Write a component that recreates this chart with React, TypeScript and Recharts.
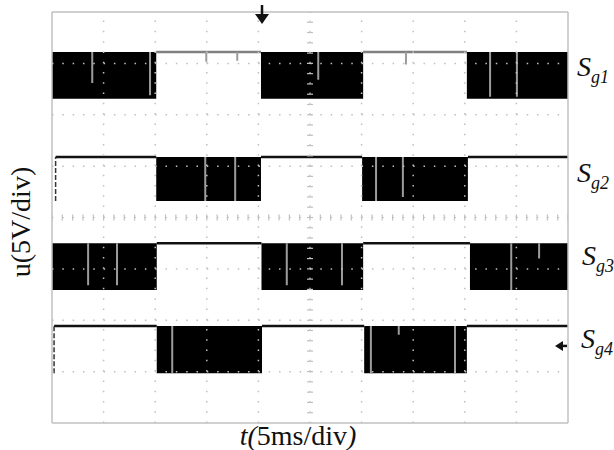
import { ComposedChart, Area, Line, Scatter, XAxis, YAxis, ReferenceLine, ReferenceDot } from "recharts";

// scope screen is 10 x 8 divisions, values below are in divisions
const signalNames = ["g1", "g2", "g3", "g4"];
const highLevel = [7.22, 5.18, 3.5, 1.89];
const lowLevel = [6.31, 4.32, 2.59, 0.97];
const traceStart = [0, 0.07, 0, 0.04];

// PWM bursts (switching at high freq, shows as solid block) [from, to]
const pwmBursts = [
  [[0, 2.02], [4.05, 6.03], [8.04, 10]],
  [[2.02, 4.05], [6.01, 8.06]],
  [[0, 2.03], [4.06, 6.03], [8.1, 10]],
  [[2.03, 4.07], [6.05, 8.04]],
];

// light glitches in the trace [t, from, to]
const glitches = [
  [[0.78, 7.22, 6.62], [1.9, 7.22, 6.38], [2.99, 7.22, 7.03], [3.59, 7.22, 7.05], [5.16, 7.22, 6.68], [6.86, 7.22, 6.98], [8.49, 7.22, 6.35], [9.01, 7.22, 6.35]],
  [[2.97, 5.18, 4.32], [3.55, 5.18, 4.32], [6.28, 5.18, 4.32], [6.8, 5.18, 4.4]],
  [[0.7, 3.5, 2.68], [1.26, 3.5, 2.68], [4.55, 3.5, 2.68], [5.62, 3.5, 2.68], [8.9, 3.5, 2.59], [9.44, 3.5, 3.2]],
  [[2.33, 1.89, 0.97], [6.18, 1.89, 0.97], [6.72, 1.89, 1.72], [7.81, 1.89, 0.97]],
];

const gridX = [1, 2, 3, 4, 6, 7, 8, 9];
const gridY = [1, 2, 3, 5, 6, 7];
const triggerTime = 4.07;
const triggerLevel = 1.5;

const traceColor = ["#808080", "#111", "#111", "#111"];
const frameColor = "#c0c0c0";
const serif = "'Liberation Serif', 'Times New Roman', serif";

const minorX = Array.from({ length: 51 }, (_, k) => +(k * 0.2).toFixed(1));
const minorY = Array.from({ length: 41 }, (_, k) => +(k * 0.2).toFixed(1));

const burstData = (i: number) =>
  pwmBursts[i].flatMap(([a, b]) => [
    { t: a, band: [lowLevel[i], highLevel[i]] },
    { t: b, band: [lowLevel[i], highLevel[i]] },
    { t: b, band: null },
  ]);

// flat high level between the bursts
const traceData = (i: number) => {
  const pts: any[] = [];
  let from = traceStart[i];
  pwmBursts[i].forEach(([a, b]) => {
    if (a > from) pts.push({ t: from, v: highLevel[i] }, { t: a, v: highLevel[i] }, { t: a, v: null });
    from = b;
  });
  if (from < 10) pts.push({ t: from, v: highLevel[i] }, { t: 10, v: highLevel[i] });
  return pts;
};

// rising edge at start of capture (only where the trace starts low)
const edgeData = (i: number) =>
  traceStart[i] > 0 ? [{ t: traceStart[i], v: lowLevel[i] }, { t: traceStart[i], v: highLevel[i] }] : [];

const glitchData = (i: number) =>
  glitches[i].flatMap(([t, a, b]) => [
    { t, v: a },
    { t, v: b },
    { t, v: null },
  ]);

const groundData = lowLevel.map((v) => ({ t: 0, v }));
const centerH = minorX.map((t) => ({ t, v: 4 }));
const centerV = minorY.map((v) => ({ t: 5, v }));

const VTick = (p: any) => <line x1={p.cx} x2={p.cx} y1={p.cy - 3} y2={p.cy + 3} stroke={frameColor} strokeWidth={1.2} />;
const HTick = (p: any) => <line x1={p.cx - 3} x2={p.cx + 3} y1={p.cy} y2={p.cy} stroke={frameColor} strokeWidth={1.2} />;
const GroundMark = (p: any) => (
  <path d={`M${p.cx - 6},${p.cy - 3} L${p.cx - 1},${p.cy} L${p.cx - 6},${p.cy + 3} Z`} fill="#111" />
);
const DownArrow = (p: any) => (
  <g>
    <line x1={p.cx} x2={p.cx} y1={p.cy - 7} y2={p.cy + 4} stroke="#111" strokeWidth={2.5} />
    <path d={`M${p.cx - 7},${p.cy + 2} L${p.cx + 7},${p.cy + 2} L${p.cx},${p.cy + 12} Z`} fill="#111" />
  </g>
);
const LeftArrow = (p: any) => (
  <g>
    <line x1={p.cx - 10} x2={p.cx - 1} y1={p.cy} y2={p.cy} stroke="#111" strokeWidth={2.5} />
    <path d={`M${p.cx - 5},${p.cy - 5} L${p.cx - 5},${p.cy + 5} L${p.cx - 13},${p.cy} Z`} fill="#111" />
  </g>
);

const labelTops = [51, 157, 240, 323];
const labelLefts = [577, 577, 582, 581];

export default function App() {
  return (
    <div style={{ position: "absolute", left: 0, top: 0, width: 614, height: 450, background: "#fff" }}>
      <ComposedChart width={614} height={450} margin={{ top: 12, right: 46, bottom: 27, left: 52 }}>
        <XAxis dataKey="t" type="number" domain={[0, 10]} ticks={minorX} mirror tick={false} tickSize={4}
          axisLine={{ stroke: frameColor, strokeWidth: 1.5 }} tickLine={{ stroke: frameColor }} allowDataOverflow />
        <XAxis xAxisId="top" orientation="top" dataKey="t" type="number" domain={[0, 10]} ticks={minorX} mirror tick={false} tickSize={4}
          axisLine={{ stroke: frameColor, strokeWidth: 1.5 }} tickLine={{ stroke: frameColor }} allowDataOverflow />
        <YAxis type="number" domain={[0, 8]} ticks={minorY} mirror tick={false} tickSize={4}
          axisLine={{ stroke: frameColor, strokeWidth: 1.5 }} tickLine={{ stroke: frameColor }} allowDataOverflow />
        <YAxis yAxisId="right" orientation="right" type="number" domain={[0, 8]} ticks={minorY} mirror tick={false} tickSize={4}
          axisLine={{ stroke: frameColor, strokeWidth: 1.5 }} tickLine={{ stroke: frameColor }} allowDataOverflow />

        {signalNames.map((n, i) => (
          <Area key={"b" + n} data={burstData(i)} dataKey="band" type="linear" stroke="none" fill="#000" fillOpacity={1} isAnimationActive={false} />
        ))}
        {signalNames.map((n, i) => (
          <Line key={"t" + n} data={traceData(i)} dataKey="v" type="linear" stroke={traceColor[i]} strokeWidth={2.5} dot={false} isAnimationActive={false} />
        ))}
        {signalNames.map((n, i) => (
          <Line key={"e" + n} data={edgeData(i)} dataKey="v" type="linear" stroke="#333" strokeWidth={1.5} strokeDasharray="5 2" dot={false} isAnimationActive={false} />
        ))}
        {signalNames.map((n, i) => (
          <Line key={"g" + n} data={glitchData(i)} dataKey="v" type="linear" stroke="#9c9c9c" strokeWidth={2} dot={false} isAnimationActive={false} />
        ))}

        {gridX.map((x) => (
          <ReferenceLine key={"gx" + x} x={x} stroke={frameColor} strokeWidth={1.5} strokeDasharray="1.5 8.78" />
        ))}
        {gridY.map((y) => (
          <ReferenceLine key={"gy" + y} y={y} stroke={frameColor} strokeWidth={1.5} strokeDasharray="1.5 8.82" />
        ))}
        <ReferenceLine x={5} stroke={frameColor} strokeWidth={1.2} strokeDasharray="1.5 8.78" />
        <ReferenceLine y={4} stroke={frameColor} strokeWidth={1.2} strokeDasharray="1.5 8.82" />
        <Scatter data={centerH} dataKey="v" shape={VTick} isAnimationActive={false} />
        <Scatter data={centerV} dataKey="v" shape={HTick} isAnimationActive={false} />
        <Scatter data={groundData} dataKey="v" shape={GroundMark} isAnimationActive={false} />
        <ReferenceDot x={triggerTime} y={8} r={1} shape={DownArrow} ifOverflow="visible" />
        <ReferenceDot x={10} y={triggerLevel} r={1} shape={LeftArrow} ifOverflow="visible" />
      </ComposedChart>

      <div style={{ position: "absolute", left: 21, top: 222, transform: "translate(-50%, -50%) rotate(-90deg)", fontFamily: serif, fontSize: 28, whiteSpace: "nowrap", color: "#111" }}>
        u(5V/div)
      </div>
      <div style={{ position: "absolute", left: 298, top: 436, transform: "translate(-50%, -50%)", fontFamily: serif, fontSize: 28, whiteSpace: "nowrap", color: "#111" }}>
        <i>t(</i>5ms/div<i>)</i>
      </div>
      {signalNames.map((n, i) => (
        <div key={"l" + n} style={{ position: "absolute", left: labelLefts[i], top: labelTops[i], fontFamily: serif, fontStyle: "italic", fontSize: 28, color: "#111", whiteSpace: "nowrap" }}>
          S<span style={{ fontSize: 18, position: "relative", top: 7 }}>{n}</span>
        </div>
      ))}
    </div>
  );
}
